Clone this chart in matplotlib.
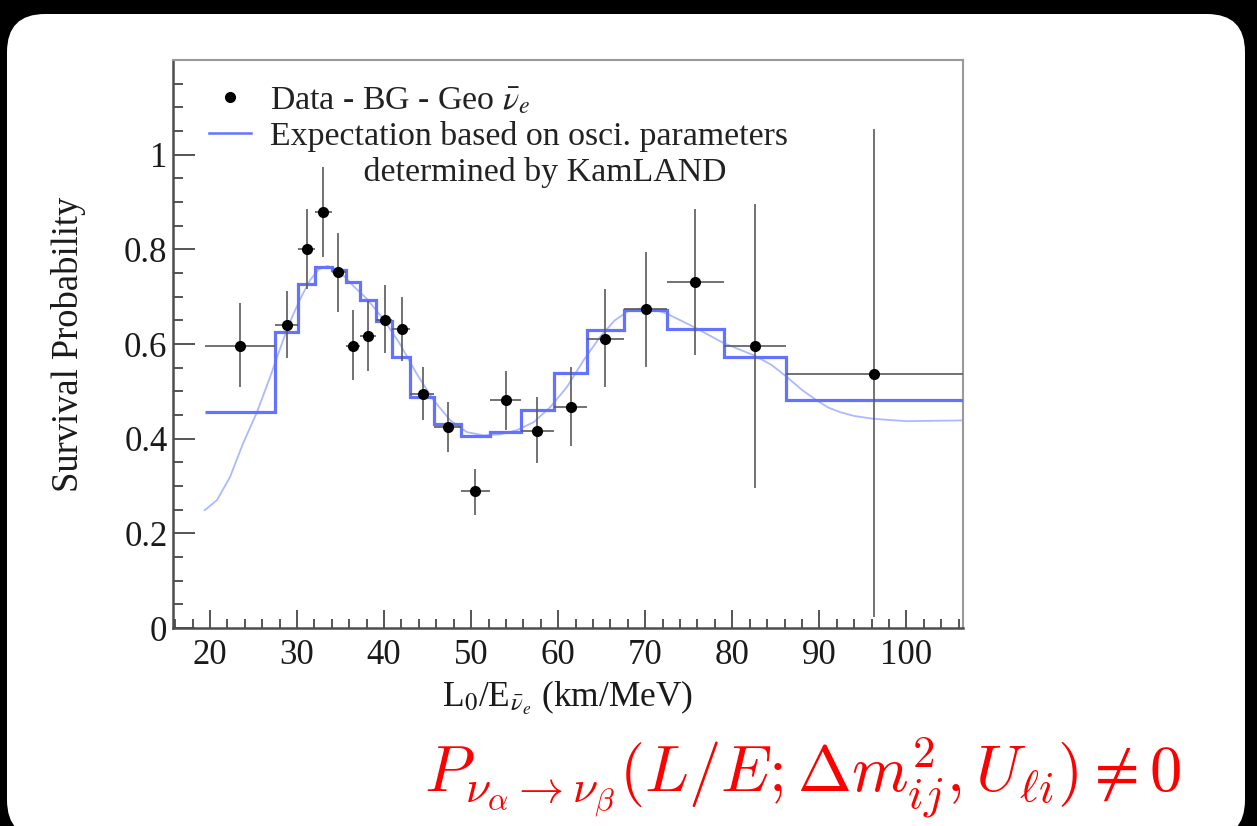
import numpy as np
import matplotlib
matplotlib.use("Agg")
import matplotlib.pyplot as plt
from matplotlib.lines import Line2D
from matplotlib.patches import FancyBboxPatch
from matplotlib.ticker import MultipleLocator, FuncFormatter

plt.rcParams["font.family"] = ["Liberation Serif", "DejaVu Serif"]
plt.rcParams["mathtext.fontset"] = "stix"

# Measured points: L0/E (km/MeV), survival probability, error band
data_x = [23.4, 28.8, 31.1, 33.0, 34.75, 36.4, 38.2, 40.05, 42.1, 44.5,
          47.3, 50.4, 54.0, 57.6, 61.5, 65.4, 70.1, 75.75, 82.6, 96.3]
data_y = [0.595, 0.641, 0.800, 0.880, 0.752, 0.596, 0.617, 0.651, 0.632, 0.494,
          0.425, 0.289, 0.481, 0.416, 0.468, 0.611, 0.673, 0.731, 0.595, 0.537]
data_lo = [0.509, 0.570, 0.717, 0.783, 0.667, 0.523, 0.544, 0.580, 0.565, 0.439,
           0.372, 0.238, 0.418, 0.348, 0.384, 0.509, 0.551, 0.576, 0.295, 0.023]
data_hi = [0.686, 0.713, 0.886, 0.975, 0.834, 0.671, 0.690, 0.724, 0.699, 0.551,
           0.477, 0.337, 0.544, 0.488, 0.551, 0.717, 0.794, 0.885, 0.896, 1.054]

# Binning of L0/E and binned expectation
bin_edges = [19.4, 27.5, 30.15, 32.1, 34.0, 35.6, 37.2, 39.1, 40.9, 43.0, 45.7,
             48.8, 52.2, 55.7, 59.5, 63.3, 67.6, 72.5, 79.0, 86.2, 108.0]
bin_expect = [0.456, 0.625, 0.727, 0.763, 0.757, 0.731, 0.692, 0.648, 0.572, 0.488,
              0.432, 0.406, 0.414, 0.460, 0.538, 0.630, 0.671, 0.632, 0.573, 0.482]

# Unbinned expectation curve
curve_x = [19.4, 20.8, 22.3, 23.8, 25.4, 26.9, 28.4, 29.5, 30.5, 31.5, 32.5, 33.5,
           34.5, 35.5, 36.5, 38.0, 39.9, 41.8, 43.75, 45.7, 47.6, 49.5, 51.4, 53.3,
           55.25, 57.2, 59.1, 61.0, 62.9, 64.8, 66.5, 68.0, 70.2, 72.5, 75.6, 79.0,
           82.5, 84.5, 86.3, 88.0, 89.7, 91.0, 92.4, 94.0, 96.2, 100.0, 108.0]
curve_y = [0.249, 0.270, 0.319, 0.390, 0.456, 0.530, 0.608, 0.660, 0.700, 0.735,
           0.758, 0.765, 0.758, 0.742, 0.722, 0.696, 0.653, 0.601, 0.537, 0.481,
           0.439, 0.414, 0.407, 0.409, 0.418, 0.435, 0.467, 0.509, 0.565, 0.615,
           0.650, 0.669, 0.678, 0.664, 0.636, 0.602, 0.576, 0.556, 0.530, 0.503,
           0.481, 0.466, 0.456, 0.448, 0.442, 0.437, 0.439]

x_ticks = [20, 30, 40, 50, 60, 70, 80, 90, 100]
y_ticks = [0, 0.2, 0.4, 0.6, 0.8, 1.0]

step_color = "#6473ff"
curve_color = "#aeb8ff"
err_color = "#5a5a5a"

fig = plt.figure(figsize=(12.57, 8.26), dpi=100)
fig.patch.set_facecolor("black")
panel = FancyBboxPatch((0.07, -0.12), 12.38, 8.24,
                       boxstyle="round,pad=0,rounding_size=0.38",
                       transform=fig.dpi_scale_trans,
                       facecolor="white", edgecolor="none", zorder=-10)
fig.patches.append(panel)

ax = fig.add_axes([0.1376, 0.2397, 0.6285, 0.6876])
ax.set_facecolor("white")

dx = np.asarray(data_x)
dy = np.asarray(data_y)
edges = np.asarray(bin_edges)
xerr = [dx - edges[:-1], edges[1:] - dx]
yerr = [dy - np.asarray(data_lo), np.asarray(data_hi) - dy]

ax.plot(curve_x, curve_y, color=curve_color, lw=1.3, zorder=2)
ax.stairs(bin_expect, bin_edges, baseline=None, color=step_color, lw=2.3, zorder=3)
ax.errorbar(dx, dy, xerr=xerr, yerr=yerr, fmt="none", ecolor=err_color,
            elinewidth=1.2, capsize=0, zorder=4)
ax.plot(dx, dy, "o", color="black", ms=7, zorder=5)

ax.set_xlim(15.75, 106.5)
ax.set_ylim(0, 1.2)
ax.set_xticks(x_ticks)
ax.set_yticks(y_ticks)
ax.xaxis.set_minor_locator(MultipleLocator(2))
ax.yaxis.set_minor_locator(MultipleLocator(0.05))
ax.yaxis.set_major_formatter(FuncFormatter(lambda v, _: "%g" % v))

ax.tick_params(axis="both", which="both", direction="in", top=False, right=False,
               color="#555555", width=1.4, labelsize=25, labelcolor="#1a1a1a")
ax.tick_params(axis="y", which="major", length=16, pad=4)
ax.tick_params(axis="y", which="minor", length=7)
ax.tick_params(axis="x", which="major", length=13, pad=8)
ax.tick_params(axis="x", which="minor", length=6.5)

for side in ("left", "bottom"):
    ax.spines[side].set_color("#4d4d4d")
    ax.spines[side].set_linewidth(1.8)
for side in ("top", "right"):
    ax.spines[side].set_color("#9a9a9a")
    ax.spines[side].set_linewidth(1.5)

ax.set_ylabel("Survival Probability", fontsize=26.3, color="#1a1a1a", labelpad=27)
ax.set_xlabel(r"L$_0$/E$_{\bar{\nu}_e}$ (km/MeV)", fontsize=25.5, color="#1a1a1a",
              labelpad=5)

handles = [
    Line2D([], [], marker="o", color="black", ls="none", ms=7),
    Line2D([], [], color=step_color, lw=1.8),
    Line2D([], [], ls="none"),
]
labels = [
    r"Data - BG - Geo $\bar{\nu}_e$",
    "Expectation based on osci. parameters",
    "           determined by KamLAND",
]
ax.legend(handles, labels, loc="upper left", bbox_to_anchor=(0.045, 0.955),
          frameon=False, fontsize=24.4, handlelength=1.25, handletextpad=0.55,
          labelspacing=0.14, borderpad=0, borderaxespad=0, labelcolor="#222222")

fig.text(1182 / 1257, 34 / 826,
         r"$P_{\nu_\alpha\to\nu_\beta}(L/E;\Delta m^2_{ij},U_{\ell i})\neq 0$",
         color="red", fontsize=46.5, ha="right", va="baseline", math_fontfamily="cm")

fig.savefig("out.png", dpi=100, facecolor=fig.get_facecolor())
